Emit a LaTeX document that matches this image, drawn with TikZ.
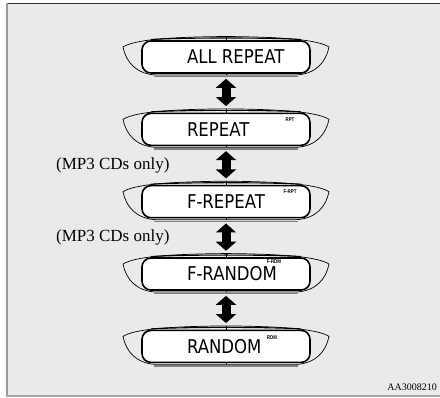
\documentclass[tikz,border=0pt]{standalone}
\usepackage{fontspec}
\setmainfont{Liberation Serif}
\newfontfamily\lcdfont[FakeStretch=0.87]{DejaVu Sans}
\newfontfamily\tagfont[FakeStretch=0.8]{Liberation Sans}
\usepackage{tikz}
\usetikzlibrary{arrows.meta,positioning,calc}
\definecolor{panelgray}{HTML}{EAEAEA}
\newcommand{\lcdline}[1]{\makebox[168pt][l]{\hspace{45pt}#1}}
\tikzset{
  lcd/.style={rectangle, rounded corners=9pt, draw=black, line width=1.6pt,
              fill=white, minimum width=168pt, minimum height=32pt,
              inner sep=0pt, font=\lcdfont\fontsize{19}{19}\selectfont},
  bezel/.style={draw=black, line width=0.7pt},
  seam/.style={draw=black, line width=0.5pt},
  shadowline/.style={draw=gray, line width=1.2pt},
  tagtext/.style={inner sep=0pt, font=\tagfont\bfseries\fontsize{5.5}{5.5}\selectfont},
  note/.style={inner sep=0pt, font=\fontsize{17}{17}\selectfont},
  imgcode/.style={inner sep=0pt, font=\fontsize{10}{10}\selectfont},
  updown/.style={{Triangle[width=20pt,length=9pt]}-{Triangle[width=20pt,length=9pt]},
                 line width=9pt, shorten <=5pt, shorten >=6.5pt},
}

\begin{document}
\begin{tikzpicture}[x=1pt, y=-1pt, node distance=38.75pt]
    \useasboundingbox (0,0) rectangle (440,398);
    % panel
    \fill[panelgray] (6,3) rectangle (440,397);
    \draw[black!80, line width=1.5pt] (6,3.5) -- (440,3.5);
    \draw[gray!80, line width=2pt] (7,3) -- (7,397);
    \draw[gray!70, line width=2pt] (6,396.5) -- (440,396.5);
    % displays
    \node[lcd] (allrep) at (226,57) {\lcdline{ALL REPEAT}};
    \node[lcd, below=of allrep] (rep) {\lcdline{REPEAT}};
    \node[lcd, below=of rep] (frep) {\lcdline{F-REPEAT}};
    \node[lcd, below=of frep] (frand) {\lcdline{F-RANDOM}};
    \node[lcd, below=of frand] (rand) {\lcdline{RANDOM}};
    \foreach \n in {allrep,rep,frep,frand,rand} {
      \begin{scope}[shift={(\n.center)}]
        \draw[bezel] (-70,18) .. controls (-90,17) and (-100,5) .. (-103,-10)
          .. controls (-92,-17) and (-60,-20) .. (0,-20.5)
          .. controls (60,-20) and (92,-17) .. (103,-10)
          .. controls (100,5) and (90,17) .. (70,18) -- cycle;
        \draw[line width=1.1pt] (-75,-17.5) .. controls (-40,-19.5) and (40,-19.5) .. (75,-17.5);
        \draw[shadowline] (-72,19.6) -- (72,19.6);
        \draw[seam] (0,-20.5) -- (0,-16);
        \draw[seam] (0,16) -- (0,18);
      \end{scope}
    }
    % mode indicators
    \node[tagtext] (rpt) at ($(rep)+(64,-10)$) {RPT};
    \node[tagtext] (frpt) at ($(frep)+(64,-10)$) {F-RPT};
    \node[tagtext] (frdm) at ($(frand)+(48,-12.5)$) {F-RDM};
    \node[tagtext] (rdm) at ($(rand)+(46,-9)$) {RDM};
    % arrows
    \draw[updown] (allrep) -- (rep);
    \draw[updown] (rep) -- node[note, left=52pt] (mp3a) {(MP3 CDs only)} (frep);
    \draw[updown] (frep) -- node[note, left=52pt] (mp3b) {(MP3 CDs only)} (frand);
    \draw[updown] (frand) -- (rand);
    \node[imgcode, anchor=south east] (imgid) at (437,391) {AA3008210};
\end{tikzpicture}
\end{document}
